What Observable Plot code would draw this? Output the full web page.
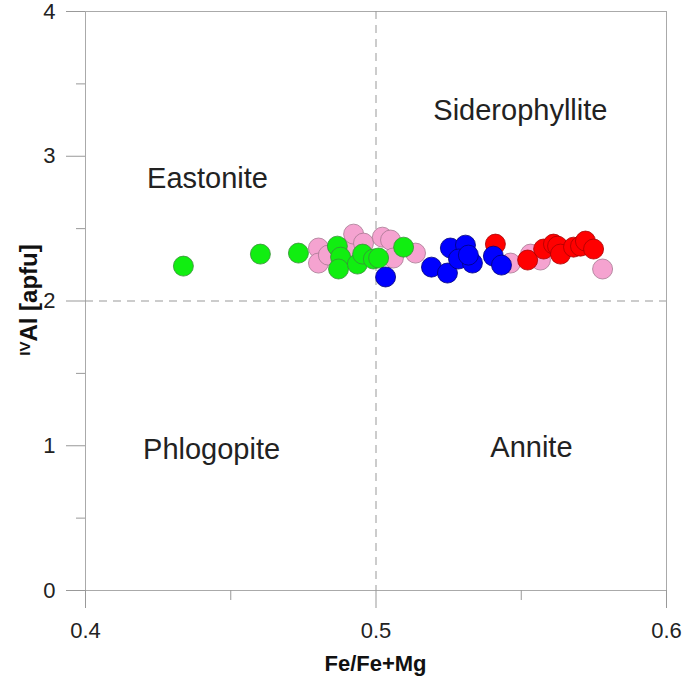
<!DOCTYPE html>
<html>
<head>
<meta charset="utf-8">
<script src="https://cdn.jsdelivr.net/npm/d3@7"></script>
<script src="https://cdn.jsdelivr.net/npm/@observablehq/plot@0.6"></script>
<style>
  html, body { margin: 0; padding: 0; background: #fff; }
  #chart svg { display: block; }
</style>
</head>
<body>
<div id="chart"></div>
<script>
// ---- data ----
const xTicks = [0.4, 0.5, 0.6];
const xMinorTicks = [0.45, 0.55];
const yTicks = [0, 1, 2, 3, 4];
const yMinorTicks = [0.5, 1.5, 2.5, 3.5];

const regionNames = ["Eastonite", "Siderophyllite", "Phlogopite", "Annite"];
const regionFe = [0.4420, 0.5497, 0.4434, 0.5535];
const regionAl = [2.848, 3.317, 0.972, 0.986];

const pinkFe = [0.4802, 0.4802, 0.4836, 0.4902, 0.4923, 0.4957, 0.5022, 0.5050, 0.5060, 0.5136, 0.5463, 0.5532, 0.5566, 0.5780];
const pinkAl = [2.366, 2.262, 2.317, 2.366, 2.462, 2.400, 2.441, 2.421, 2.297, 2.331, 2.262, 2.324, 2.283, 2.221];

const greenFe = [0.4337, 0.4602, 0.4733, 0.4867, 0.4878, 0.4871, 0.4936, 0.4954, 0.4991, 0.5009, 0.5095];
const greenAl = [2.241, 2.324, 2.331, 2.379, 2.303, 2.221, 2.255, 2.324, 2.290, 2.297, 2.372];

const redFe = [0.5411, 0.5522, 0.5577, 0.5611, 0.5625, 0.5635, 0.5680, 0.5704, 0.5721, 0.5749];
const redAl = [2.393, 2.283, 2.359, 2.393, 2.379, 2.324, 2.372, 2.379, 2.414, 2.359];

const blueFe = [0.5033, 0.5191, 0.5246, 0.5256, 0.5308, 0.5284, 0.5332, 0.5318, 0.5404, 0.5432];
const blueAl = [2.166, 2.234, 2.193, 2.366, 2.386, 2.290, 2.262, 2.317, 2.310, 2.248];

const boundaryFe = [0.5];
const boundaryAl = [2];

// ---- build tables ----
const toRows = (xs, ys) => xs.map((x, i) => ({fe: x, al: ys[i]}));
const regions = regionNames.map((n, i) => ({name: n, fe: regionFe[i], al: regionAl[i]}));

const FONT = "'Liberation Sans', Arial, Helvetica, sans-serif";
const dotOpts = (fill, stroke) => ({x: "fe", y: "al", r: 10, fill, stroke, strokeWidth: 0.8});

const svg = Plot.plot({
  width: 685,
  height: 685,
  marginLeft: 85,
  marginRight: 19,
  marginTop: 11,
  marginBottom: 95,
  style: {fontFamily: FONT, background: "#fff"},
  x: {domain: [0.4, 0.6]},
  y: {domain: [0, 4]},
  marks: [
    Plot.frame({stroke: "#aaa"}),
    Plot.ruleX(boundaryFe, {stroke: "#999", strokeDasharray: "8,6"}),
    Plot.ruleY(boundaryAl, {stroke: "#999", strokeDasharray: "8,6"}),
    Plot.axisX({ticks: xTicks, tickSize: 18, tickPadding: 14, tickFormat: d3.format(".1f"),
      fontSize: 22, stroke: "#999", fill: "#222", label: null}),
    Plot.axisX({ticks: xMinorTicks, tickSize: 10, tickFormat: () => "", stroke: "#999", label: null}),
    Plot.axisY({ticks: yTicks, tickSize: 19, tickPadding: 11, tickFormat: d3.format("d"),
      fontSize: 22, stroke: "#999", fill: "#222", label: null}),
    Plot.axisY({ticks: yMinorTicks, tickSize: 9, tickFormat: () => "", stroke: "#999", label: null}),
    Plot.text(regions, {x: "fe", y: "al", text: "name", fontSize: 29, fill: "#222"}),
    Plot.dot(toRows(pinkFe, pinkAl), dotOpts("#f5a3d0", "#a77892")),
    Plot.dot(toRows(greenFe, greenAl), dotOpts("#11ee11", "#3a8f3a")),
    Plot.dot(toRows(redFe, redAl), dotOpts("#ff0000", "#a80000")),
    Plot.dot(toRows(blueFe, blueAl), dotOpts("#0000ff", "#00007a"))
  ]
});

// axis titles (with superscript for the y label)
const s = d3.select(svg);
s.append("text")
  .attr("x", 85 + 581 / 2)
  .attr("y", 671)
  .attr("text-anchor", "middle")
  .attr("font-family", FONT)
  .attr("font-weight", "bold")
  .attr("font-size", 22)
  .attr("fill", "#111")
  .text("Fe/Fe+Mg");

const yl = s.append("text")
  .attr("transform", "translate(37,300) rotate(-90)")
  .attr("text-anchor", "middle")
  .attr("font-family", FONT)
  .attr("font-weight", "bold")
  .attr("font-size", 24)
  .attr("fill", "#111");
yl.append("tspan").attr("font-size", 15).attr("dy", "-0.5em").text("IV");
yl.append("tspan").attr("dy", "0.32em").text("Al [apfu]");

document.getElementById("chart").appendChild(svg);
</script>
</body>
</html>
